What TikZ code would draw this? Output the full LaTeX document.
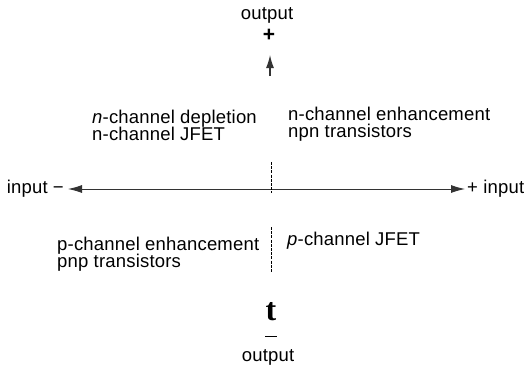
\documentclass[tikz,border=0pt]{standalone}
\usepackage{fontspec}
\setmainfont{Liberation Sans}[LetterSpace=1]
\newfontfamily\tfont{Liberation Serif}
\usetikzlibrary{arrows.meta}
\begin{document}
\begin{tikzpicture}[x=1pt,y=-1pt,
  lbl/.style={inner sep=0pt,font=\fontsize{18.5}{20}\selectfont},
  axis/.style={line width=0.9pt,draw=black!80},
  tick/.style={line width=0.8pt,dash pattern=on 3pt off 1.2pt},
  axistips/.style={{Latex[length=14pt,width=8pt]}-{Latex[length=14pt,width=8pt]}}]
\useasboundingbox (0,0) rectangle (530,370);
% top output
\node[lbl] (outtop) at (267,15) {output};
\node[lbl,font=\bfseries\fontsize{21}{21}\selectfont] (plustop) at (269,35) {+};
\coordinate (uptail) at (270,76);
\coordinate (uptip) at (270,55);
\draw[axis,line width=1.2pt,-{Latex[length=13pt,width=8pt]}] (uptail) -- (uptip);
% quadrant labels
\node[lbl,anchor=base west] (ndep) at (92,123) {\textit{n}-channel depletion};
\node[lbl,anchor=base west] (njfet) at (92,140) {n-channel JFET};
\node[lbl,anchor=base west] (nenh) at (288,120) {n-channel enhancement};
\node[lbl,anchor=base west] (npn) at (288,137) {npn transistors};
\node[lbl,anchor=base west] (penh) at (57,250) {p-channel enhancement};
\node[lbl,anchor=base west] (pnp) at (57,267) {pnp transistors};
\node[lbl,anchor=base west] (pjfet) at (287,245) {\textit{p}-channel JFET};
% horizontal axis
\node[lbl,anchor=base east] (inl) at (64,193) {input −};
\node[lbl,anchor=base west] (inr) at (467,193) {+ input};
\coordinate (ltip) at (68,189);
\coordinate (rtip) at (465,189);
\draw[axis,axistips] (ltip) -- (rtip);
% vertical ticks
\coordinate (v1a) at (271,162);
\coordinate (v1b) at (271,193);
\coordinate (v2a) at (271,227);
\coordinate (v2b) at (271,273);
\draw[tick] (v1a) -- (v1b);
\draw[tick] (v2a) -- (v2b);
% bottom
\node[inner sep=0pt,font=\tfont\bfseries\fontsize{32}{32}\selectfont] (tb) at (271,312) {t};
\coordinate (ula) at (265,336);
\coordinate (ulb) at (277,336);
\draw[line width=0.8pt] (ula) -- (ulb);
\node[lbl] (outbot) at (268,357) {output};
\end{tikzpicture}
\end{document}
